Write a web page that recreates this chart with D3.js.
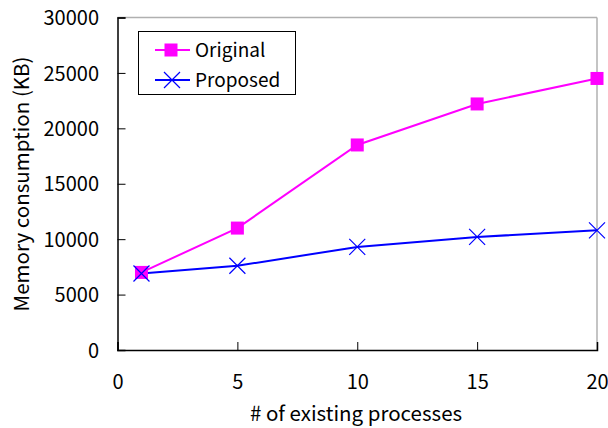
<!DOCTYPE html>
<html>
<head>
<meta charset="utf-8">
<script src="https://cdn.jsdelivr.net/npm/d3@7"></script>
<style>
  html, body { margin: 0; padding: 0; background: #fff; }
  svg { display: block; }
  text { font-family: "Noto Sans CJK JP", "DejaVu Sans", sans-serif; fill: #000; }
</style>
</head>
<body>
<svg id="chart" width="608" height="428"></svg>
<script>
const xValues = [1, 5, 10, 15, 20];
const originalValues = [7000, 11000, 18500, 22200, 24500];
const proposedValues = [6900, 7600, 9300, 10200, 10800];
const xTicks = [0, 5, 10, 15, 20];
const yTicks = [0, 5000, 10000, 15000, 20000, 25000, 30000];
const seriesNames = ["Original", "Proposed"];

const svg = d3.select("#chart");
const mLeft = 117.5, mRight = 597, mTop = 17.5, mBottom = 350;
const fontFam = '"Noto Sans CJK JP", "DejaVu Sans", sans-serif';

const x = d3.scaleLinear().domain([0, 20]).range([mLeft, mRight]);
const y = d3.scaleLinear().domain([0, 30000]).range([mBottom, mTop]);

// frame: top & right gray
svg.append("line").attr("x1", mLeft).attr("x2", mRight).attr("y1", mTop).attr("y2", mTop)
  .attr("stroke", "#b0b0b0").attr("stroke-width", 1.5);
svg.append("line").attr("x1", mRight).attr("x2", mRight).attr("y1", mTop).attr("y2", mBottom)
  .attr("stroke", "#b0b0b0").attr("stroke-width", 1.5);

// axes
const xAxis = d3.axisBottom(x).tickValues(xTicks).tickSize(-8).tickPadding(22).tickFormat(d3.format("d"));
const gx = svg.append("g").attr("transform", `translate(0,${mBottom})`).call(xAxis);
const yAxis = d3.axisLeft(y).tickValues(yTicks).tickSize(-8).tickPadding(18.5).tickFormat(d3.format("d"));
const gy = svg.append("g").attr("transform", `translate(${mLeft},0)`).call(yAxis);
[gx, gy].forEach(g => {
  g.select(".domain").attr("stroke", "#000").attr("stroke-width", 1.5);
  g.selectAll(".tick line").attr("stroke", "#000").attr("stroke-width", 1);
  g.selectAll(".tick text").attr("font-size", 20).attr("font-family", fontFam).attr("fill", "#000");
});
gx.selectAll(".tick text").attr("dy", "0.36em").attr("y", 32);
gy.selectAll(".tick text").attr("dy", "0.36em");

// axis titles
svg.append("text").attr("x", 356).attr("y", 421).attr("text-anchor", "middle")
  .attr("font-size", 20.5).text("# of existing processes");
svg.append("text").attr("transform", "translate(29,184) rotate(-90)").attr("text-anchor", "middle")
  .attr("font-size", 20.5).text("Memory consumption (KB)");

const line = d3.line().x(d => x(d[0])).y(d => y(d[1]));
const origData = xValues.map((v, i) => [v, originalValues[i]]);
const propData = xValues.map((v, i) => [v, proposedValues[i]]);

svg.append("path").datum(origData).attr("d", line).attr("fill", "none")
  .attr("stroke", "#ff00ff").attr("stroke-width", 2);
svg.append("path").datum(propData).attr("d", line).attr("fill", "none")
  .attr("stroke", "#0000ff").attr("stroke-width", 2);

const sq = 13;
svg.selectAll(".sq").data(origData).enter().append("rect")
  .attr("x", d => x(d[0]) - sq / 2).attr("y", d => y(d[1]) - sq / 2)
  .attr("width", sq).attr("height", sq).attr("fill", "#ff00ff");

const cr = 8;
function cross(g, cx, cy) {
  g.append("path").attr("d", `M${cx - cr},${cy - cr}L${cx + cr},${cy + cr}M${cx - cr},${cy + cr}L${cx + cr},${cy - cr}`)
    .attr("stroke", "#0000ff").attr("stroke-width", 1.2).attr("fill", "none");
}
const gc = svg.append("g");
propData.forEach(d => cross(gc, x(d[0]), y(d[1])));

// legend
const lg = svg.append("g");
lg.append("rect").attr("x", 138.5).attr("y", 31.5).attr("width", 157).attr("height", 63)
  .attr("fill", "#fff").attr("stroke", "#000").attr("stroke-width", 1);
const rows = [50, 80];
lg.append("line").attr("x1", 155).attr("x2", 190).attr("y1", rows[0]).attr("y2", rows[0])
  .attr("stroke", "#ff00ff").attr("stroke-width", 2);
lg.append("rect").attr("x", 171 - sq / 2).attr("y", rows[0] - sq / 2).attr("width", sq).attr("height", sq).attr("fill", "#ff00ff");
lg.append("line").attr("x1", 155).attr("x2", 190).attr("y1", rows[1]).attr("y2", rows[1])
  .attr("stroke", "#0000ff").attr("stroke-width", 2);
cross(lg, 172, rows[1]);
seriesNames.forEach((n, i) => {
  lg.append("text").attr("x", 195).attr("y", rows[i] + 6.5)
    .attr("font-size", 19).text(n);
});
</script>
</body>
</html>
